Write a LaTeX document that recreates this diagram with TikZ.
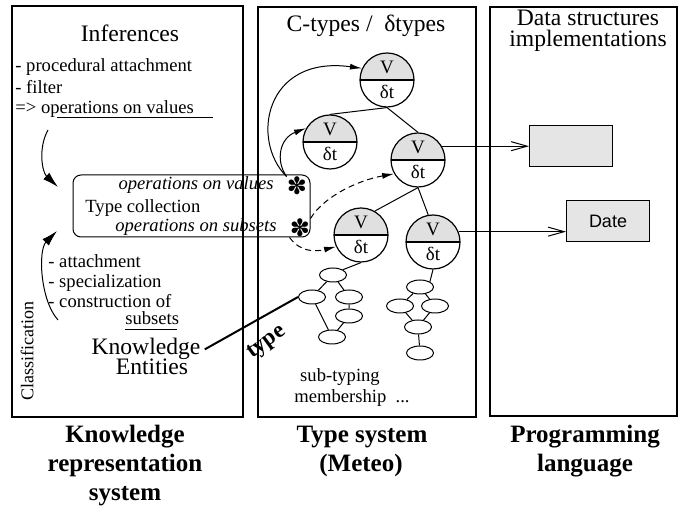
\documentclass[tikz,border=0pt]{standalone}
\usepackage{fontspec}
\setmainfont{Liberation Serif}
\setsansfont{Liberation Sans}
\newfontfamily\dingfont{DejaVu Sans}
\usetikzlibrary{arrows.meta,shapes.geometric}
\tikzset{
  vtype/.style={circle, draw, line width=0.6pt, minimum size=27pt, inner sep=0pt, align=center,
    font=\fontsize{9.5}{12.5}\selectfont,
    path picture={
      \fill[black!12] (path picture bounding box.west) rectangle (path picture bounding box.north east);
      \draw[line width=0.7pt] (path picture bounding box.west) -- (path picture bounding box.east);}},
  elt/.style={ellipse, draw, line width=0.5pt, minimum width=13.5pt, minimum height=7pt, inner sep=0pt},
  implbox/.style={rectangle, draw, line width=0.5pt, fill=black!10, minimum width=41.5pt,
    minimum height=20.5pt, font=\sffamily\fontsize{9}{11}\selectfont},
  body/.style={inner sep=0pt, font=\fontsize{9.3}{11}\selectfont},
  title/.style={inner sep=0pt, font=\fontsize{11.8}{14}\selectfont},
  caption/.style={inner sep=0pt, font=\bfseries\fontsize{12.5}{14}\selectfont},
  star/.style={inner sep=0pt, font=\dingfont\fontsize{12}{12}\selectfont},
  bigarrow/.style={-{Latex[length=8pt,width=4.5pt]}, line width=0.5pt},
  smallarrow/.style={-{Latex[length=6pt,width=3pt]}, line width=0.5pt},
  implarrow/.style={-{Straight Barb[length=8pt,width=4.5pt]}, line width=0.5pt}
}
\begin{document}
\begin{tikzpicture}[x=0.5pt,y=-0.5pt]
    \useasboundingbox (0,0) rectangle (678,506);
    % panels
    \draw[line width=0.6pt] (12,6) rectangle (243,417);
    \draw[line width=0.6pt] (258,7) rectangle (476,417);
    \draw[line width=0.6pt] (490,7) rectangle (677,416);
    \node[title] (inf) at (130,42) [anchor=base] {Inferences};
    \node[title] (ctyp) at (366,32) [anchor=base] {C-types /\ \ δtypes};
    \node[title] (dstr) at (588,26) [anchor=base] {Data structures};
    \node[title] (dimp) at (588,47) [anchor=base] {implementations};
    % knowledge representation side
    \node[body, anchor=base west] (inf1) at (15,72) {- procedural attachment};
    \node[body, anchor=base west] (inf2) at (15,94) {- filter};
    \node[body, anchor=base west] (inf3) at (15,114) {=> operations on values};
    \draw[line width=0.5pt] (57,118) -- (213,118);
    \coordinate (l1s) at (48,130);
    \coordinate (l1e) at (58,187);
    \draw[bigarrow] (l1s) .. controls (38,148) and (42,172) .. (l1e);
    \node[draw, rounded corners=4pt, line width=0.5pt, minimum width=118.5pt, minimum height=31pt] (tcoll) at (191.5,206) {};
    \node[body, anchor=base east, font=\itshape\fontsize{9.3}{11}\selectfont] (opval) at (274,190) {operations on values};
    \node[body, anchor=base west] (tcname) at (85,213) {Type collection};
    \node[body, anchor=base east, font=\itshape\fontsize{9.3}{11}\selectfont] (opsub) at (277,232) {operations on subsets};
    \node[star] (ast1) at (297,186) {✽};
    \node[star] (ast2) at (300,228) {✽};
    \node[body, anchor=base west] (cl1) at (48,268) {- attachment};
    \node[body, anchor=base west] (cl2) at (48,288) {- specialization};
    \node[body, anchor=base west] (cl3) at (48,308) {- construction of};
    \node[body, anchor=base west] (cl4) at (125,325) {subsets};
    \draw[line width=0.5pt] (125,330) -- (177,330);
    \coordinate (l2s) at (58,320);
    \coordinate (l2e) at (57,231);
    \draw[bigarrow] (l2s) .. controls (40,300) and (38,250) .. (l2e);
    \node[body, rotate=90, font=\fontsize{9}{11}\selectfont] (clas) at (27,351) {Classification};
    \node[inner sep=2pt, font=\fontsize{11.8}{14}\selectfont, anchor=base] (know) at (146,355) {Knowledge};
    \node[inner sep=0pt, font=\fontsize{11.8}{14}\selectfont, anchor=base] (ent) at (152,375) {Entities};
    % type system
    \node[vtype] (A) at (387,80) {V\\δt};
    \node[vtype] (B) at (330,142) {V\\δt};
    \node[vtype] (C) at (418,160) {V\\δt};
    \node[vtype] (D) at (361,235) {V\\δt};
    \node[vtype] (E) at (433,242) {V\\δt};
    \draw[line width=0.5pt] (A.south) -- (B.north);
    \draw[line width=0.5pt] (A.south) -- (C.north);
    \draw[line width=0.5pt] (C.south) -- (D.60);
    \draw[line width=0.5pt] (C.south) -- (E.100);
    \node[elt] (o1) at (333,275) {};
    \node[elt] (o2) at (312,297) {};
    \node[elt] (o3) at (349,297) {};
    \node[elt] (o4) at (349,316) {};
    \node[elt] (o5) at (332,337) {};
    \node[elt] (p1) at (420,287) {};
    \node[elt] (p2) at (400,306) {};
    \node[elt] (p3) at (435,306) {};
    \node[elt] (p4) at (418,327) {};
    \node[elt] (p5) at (420,353) {};
    \draw[line width=0.5pt] (D.south) -- (o1.north east);
    \draw[line width=0.5pt] (o1) -- (o2) (o1) -- (o3) (o3) -- (o4) (o2) -- (o5) (o4) -- (o5);
    \draw[line width=0.5pt] (E.south) -- (p1.north east);
    \draw[line width=0.5pt] (p1) -- (p2) (p1) -- (p3) (p2) -- (p4) (p3) -- (p4) (p4) -- (p5);
    \draw[smallarrow] (ast1.north west) .. controls (250,140) and (265,55) .. (A.155);
    \draw[smallarrow] (ast1.north west) .. controls (275,160) and (280,138) .. (B.150);
    \draw[smallarrow, dash pattern=on 3pt off 2pt] (ast2.north east) .. controls (325,195) and (360,180) .. (C.210);
    \draw[smallarrow, dash pattern=on 3pt off 2pt] (ast2.south west) .. controls (300,252) and (315,252) .. (D.205);
    \draw[line width=1pt] (know.east) -- (o2.west);
    \node[inner sep=0pt, rotate=36, font=\bfseries\fontsize{11.5}{14}\selectfont] (typ) at (267,343) {type};
    \node[body, anchor=base] (subt) at (340,382) {sub-typing};
    \node[body, anchor=base] (memb) at (352,402) {membership\ \ ...};
    % implementations
    \node[implbox] (impl) at (571,146) {};
    \node[implbox] (date) at (608,221) {Date};
    \draw[implarrow] (C.30) -- (C.30 -| impl.west);
    \draw[implarrow] (E.22) -- (E.22 -| date.west);
    % captions
    \node[caption, anchor=base] (cap1) at (125,443) {Knowledge};
    \node[caption, anchor=base] (cap2) at (125,471) {representation};
    \node[caption, anchor=base] (cap3) at (125,500) {system};
    \node[caption, anchor=base] (cap4) at (362,443) {Type system};
    \node[caption, anchor=base] (cap5) at (361,471) {(Meteo)};
    \node[caption, anchor=base] (cap6) at (585,443) {Programming};
    \node[caption, anchor=base] (cap7) at (585,471) {language};
\end{tikzpicture}
\end{document}
